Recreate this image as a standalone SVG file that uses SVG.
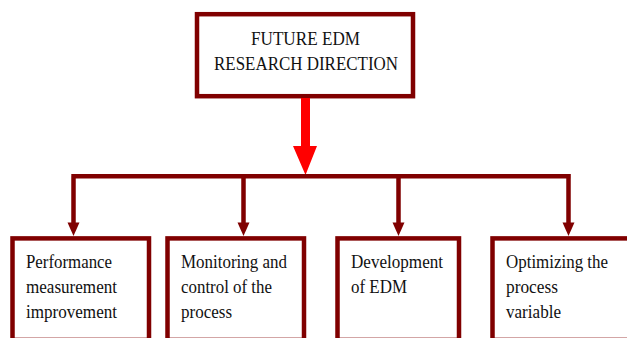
<svg xmlns="http://www.w3.org/2000/svg" width="627" height="338" viewBox="0 0 627 338">
<style>
.box{fill:#ffffff;stroke:#800000;stroke-width:4.5}
.t{font-family:'Liberation Serif','Times New Roman','DejaVu Serif',serif;font-size:19px;fill:#111111}
.conn{stroke:#800000;stroke-width:4.5;fill:none}
.head{fill:#800000}
</style>
<rect width="627" height="338" fill="#ffffff"/>
<g id="top">
<rect class="box" x="197" y="14.2" width="216" height="82"/>
<text class="t" font-family="Liberation Serif, serif" x="251" y="45" textLength="109" lengthAdjust="spacingAndGlyphs">FUTURE EDM</text>
<text class="t" font-family="Liberation Serif, serif" x="214" y="70" textLength="184" lengthAdjust="spacingAndGlyphs">RESEARCH DIRECTION</text>
</g>
<g id="connectors">
<polygon fill="#ff0000" points="301,98 310,98 310,146 317,146 305.5,175 293,146 301,146"/>
<path class="conn" d="M71.3,176.3 H570.8 M73.5,176.3 V224 M243.5,176.3 V224 M398.5,176.3 V224 M568.5,176.3 V224"/>
<polygon class="head" points="67.5,222.5 79.5,222.5 73.5,236"/>
<polygon class="head" points="237.5,222.5 249.5,222.5 243.5,236"/>
<polygon class="head" points="392.5,222.5 404.5,222.5 398.5,236"/>
<polygon class="head" points="562.5,222.5 574.5,222.5 568.5,236"/>
</g>
<g id="n1">
<rect class="box" x="12.5" y="238.4" width="136.5" height="101.5"/>
<text class="t" x="26" y="268" textLength="86" lengthAdjust="spacingAndGlyphs">Performance</text>
<text class="t" x="26" y="293" textLength="91" lengthAdjust="spacingAndGlyphs">measurement</text>
<text class="t" x="26" y="318" textLength="91" lengthAdjust="spacingAndGlyphs">improvement</text>
</g>
<g id="n2">
<rect class="box" x="167.5" y="238.4" width="136.5" height="101.5"/>
<text class="t" x="181" y="268" textLength="106" lengthAdjust="spacingAndGlyphs">Monitoring and</text>
<text class="t" x="181" y="293" textLength="91" lengthAdjust="spacingAndGlyphs">control of the</text>
<text class="t" x="181" y="318" textLength="51" lengthAdjust="spacingAndGlyphs">process</text>
</g>
<g id="n3">
<rect class="box" x="337.5" y="238.4" width="121.5" height="101.5"/>
<text class="t" x="351" y="268" textLength="92" lengthAdjust="spacingAndGlyphs">Development</text>
<text class="t" x="351" y="293" textLength="56" lengthAdjust="spacingAndGlyphs">of EDM</text>
</g>
<g id="n4">
<rect class="box" x="492.5" y="238.4" width="140" height="101.5"/>
<text class="t" x="506" y="268" textLength="102" lengthAdjust="spacingAndGlyphs">Optimizing the</text>
<text class="t" x="506" y="293" textLength="52" lengthAdjust="spacingAndGlyphs">process</text>
<text class="t" x="506" y="318" textLength="55" lengthAdjust="spacingAndGlyphs">variable</text>
</g>
</svg>
